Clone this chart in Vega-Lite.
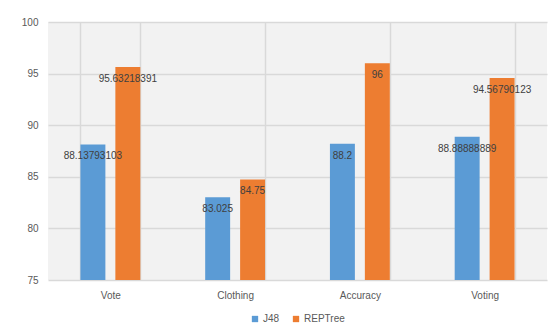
{
  "$schema": "https://vega.github.io/schema/vega-lite/v6.json",
  "autosize": {"type": "none"},
  "width": 499,
  "height": 258,
  "padding": {"left": 48, "top": 22, "right": 7, "bottom": 51},
  "background": "#ffffff",
  "config": {
    "font": "Liberation Sans",
    "view": {"fill": "#f2f2f2", "stroke": null},
    "axis": {
      "labelColor": "#595959",
      "labelFontSize": 10,
      "labelFont": "Liberation Sans",
      "gridColor": "#d9d9d9",
      "gridWidth": 1.5,
      "domain": false,
      "ticks": false,
      "title": null
    }
  },
  "data": {
    "values": [
      {"dataset": "Vote", "classifier": "J48", "accuracy": 88.13793103, "label": "88.13793103"},
      {"dataset": "Vote", "classifier": "REPTree", "accuracy": 95.63218391, "label": "95.63218391"},
      {"dataset": "Clothing", "classifier": "J48", "accuracy": 83.025, "label": "83.025"},
      {"dataset": "Clothing", "classifier": "REPTree", "accuracy": 84.75, "label": "84.75"},
      {"dataset": "Accuracy", "classifier": "J48", "accuracy": 88.2, "label": "88.2"},
      {"dataset": "Accuracy", "classifier": "REPTree", "accuracy": 96, "label": "96"},
      {"dataset": "Voting", "classifier": "J48", "accuracy": 88.88888889, "label": "88.88888889"},
      {"dataset": "Voting", "classifier": "REPTree", "accuracy": 94.56790123, "label": "94.56790123"}
    ]
  },
  "encoding": {
    "x": {
      "field": "dataset",
      "type": "nominal",
      "sort": ["Vote", "Clothing", "Accuracy", "Voting"],
      "scale": {"paddingInner": 0.52, "paddingOuter": 0.26},
      "axis": {"labelAngle": 0, "labelPadding": 10, "grid": true, "tickBand": "extent"}
    },
    "xOffset": {
      "field": "classifier",
      "type": "nominal",
      "sort": ["J48", "REPTree"],
      "scale": {"paddingInner": 0.2857, "paddingOuter": 0}
    },
    "y": {
      "field": "accuracy",
      "type": "quantitative",
      "scale": {"domain": [75, 100], "zero": false, "nice": false},
      "axis": {"values": [75, 80, 85, 90, 95, 100], "labelPadding": 10, "grid": true}
    }
  },
  "layer": [
    {
      "mark": {"type": "bar", "clip": true},
      "encoding": {
        "color": {
          "field": "classifier",
          "type": "nominal",
          "sort": ["J48", "REPTree"],
          "scale": {"range": ["#5b9bd5", "#ed7d31"]},
          "legend": {
            "title": null,
            "orient": "none",
            "legendX": 202,
            "legendY": 292,
            "padding": 0,
            "direction": "horizontal",
            "symbolType": "square",
            "symbolSize": 40,
            "symbolStrokeWidth": 0,
            "labelFontSize": 10,
            "labelColor": "#595959",
            "labelOffset": 3,
            "columnPadding": 11
          }
        }
      }
    },
    {
      "mark": {"type": "text", "dy": 12, "baseline": "middle", "align": "center", "fontSize": 10, "color": "#404040"},
      "encoding": {"text": {"field": "label"}}
    }
  ]
}
